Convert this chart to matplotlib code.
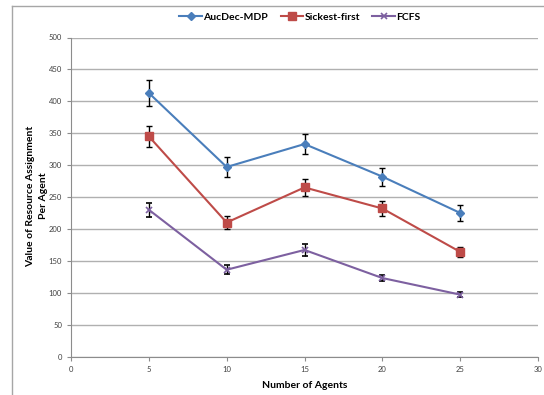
import numpy as np
import matplotlib
matplotlib.use("Agg")
import matplotlib.pyplot as plt
from matplotlib.lines import Line2D

plt.rcParams['font.family'] = ['Lato', 'DejaVu Sans']

agents = [5, 10, 15, 20, 25]
aucdec = [413, 297, 333, 282, 225]
aucdec_err = [20, 15, 16, 14, 12]
sickest = [345, 210, 265, 232, 164]
sickest_err = [17, 10, 13, 11, 8]
fcfs = [230, 136, 167, 123, 97]
fcfs_err = [11, 7, 9, 5, 4]

fig = plt.figure(figsize=(5.44, 3.95), dpi=100)
ax = fig.add_axes([71/544, 1-356.5/395, (538-71)/544, (356.5-37.5)/395])

# outer chart frame (extends past the image edges)
fig.add_artist(Line2D([12/544, 12/544], [0, 1-6/395], color='#a6a6a6', lw=1))
fig.add_artist(Line2D([12/544, 1], [1-6/395, 1-6/395], color='#a6a6a6', lw=1))

series = [
    ('AucDec-MDP', aucdec, aucdec_err, '#4a7ebb', dict(marker='D', ms=4.5)),
    ('Sickest-first', sickest, sickest_err, '#be4b48', dict(marker='s', ms=5.5)),
    ('FCFS', fcfs, fcfs_err, '#7d60a0', dict(marker='x', ms=5, mew=1.2)),
]
handles = []
for name, vals, err, col, mk in series:
    ax.errorbar(agents, vals, yerr=err, color=col, lw=1.5, ecolor='black',
                elinewidth=1, capsize=2, capthick=1, **mk)
    handles.append(Line2D([], [], color=col, lw=1.5, label=name, **mk))

ax.set_xlim(0, 30)
ax.set_ylim(0, 500)
ax.set_xticks(range(0, 31, 5))
ax.set_yticks(range(0, 501, 50))
ax.yaxis.grid(True, color='#b0b0b0', lw=1)
ax.set_axisbelow(True)
for s in ['top', 'right']:
    ax.spines[s].set_visible(False)
for s in ['left', 'bottom']:
    ax.spines[s].set_color('#8c8c8c')
ax.tick_params(labelsize=5.5, colors='#8c8c8c', labelcolor='#404040', length=3, width=0.8)

ax.set_xlabel('Number of Agents', fontsize=7.5, fontweight='bold', labelpad=6)
fig.text(37/544, 1-196/395, 'Value of Resource Assignment\nPer Agent', rotation=90,
         ha='center', va='center', multialignment='center', linespacing=1.5,
         fontsize=7.5, fontweight='bold')

fig.legend(handles=handles, loc='center', bbox_to_anchor=(300/544, 1-17/395),
           ncol=3, frameon=False, prop={'weight': 'bold', 'size': 7.5},
           handlelength=2.2, columnspacing=1.2, handletextpad=0.1)

fig.savefig('out.png', dpi=100)
